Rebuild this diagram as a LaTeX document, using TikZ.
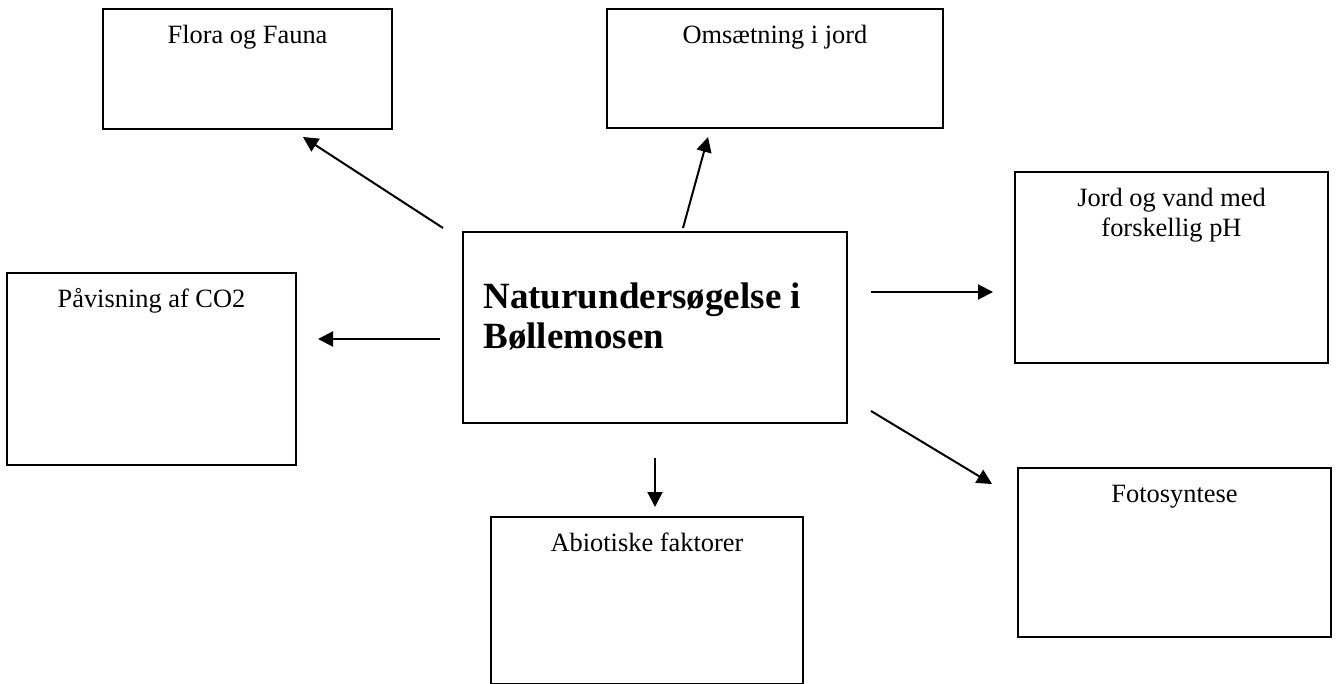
\documentclass[tikz,border=0pt]{standalone}
\usepackage{fontspec}
\setmainfont{Liberation Serif}
\usetikzlibrary{arrows.meta, positioning}

\begin{document}
\begin{tikzpicture}[x=0.5pt, y=-0.5pt, >={Triangle[length=7.5pt, width=7.5pt]},
                       boks/.style = {draw, line width=1pt, inner sep=0pt, fill=white},
                       tekst/.style = {anchor=base, font=\fontsize{13.2}{15}\selectfont, align=center},
                       pil/.style = {->, line width=1pt}
                      ]

    \useasboundingbox (0,0) rectangle (1337,684);

    % boksene
    \node[boks, minimum width=144.5pt, minimum height=60pt] (flora) at (247.5,69) {};
    \node[boks, minimum width=168pt, minimum height=59.5pt] (omsaet) at (775,68.5) {};
    \node[boks, minimum width=192pt, minimum height=95.5pt] (midt) at (655,327.5) {};
    \node[boks, minimum width=156.5pt, minimum height=95.5pt] (jord) at (1171.5,267.5) {};
    \node[boks, minimum width=144.5pt, minimum height=96pt] (co2) at (151.5,369) {};
    \node[boks, minimum width=156pt, minimum height=83.5pt] (abio) at (647,600.5) {};
    \node[boks, minimum width=156.5pt, minimum height=84.5pt] (foto) at (1174.5,552.5) {};

    \node[tekst] (flora-t) at ([yshift=-18pt]flora.north) {Flora og Fauna};
    \node[tekst] (omsaet-t) at ([yshift=-18pt]omsaet.north) {Omsætning i jord};
    \node[tekst] (jord-t) at ([yshift=-32.5pt]jord.north) {Jord og vand med\\forskellig pH};
    \node[tekst] (co2-t) at ([yshift=-17.5pt]co2.north) {Påvisning af CO2};
    \node[tekst] (abio-t) at ([yshift=-17.5pt]abio.north) {Abiotiske faktorer};
    \node[tekst] (foto-t) at ([yshift=-17.5pt]foto.north) {Fotosyntese};
    \node[anchor=base west, align=left, inner sep=0pt, font=\fontsize{18.5}{20}\selectfont\bfseries]
        (midt-t) at (483,348) {Naturundersøgelse i\\Bøllemosen};

    % pilene
    \coordinate (a1) at (443,228);  \coordinate (b1) at (303,137);
    \coordinate (a2) at (683,228);  \coordinate (b2) at (708,137);
    \coordinate (a3) at (871,292);  \coordinate (b3) at (993,292);
    \coordinate (a4) at (440,339);  \coordinate (b4) at (318,339);
    \coordinate (a5) at (655,458);  \coordinate (b5) at (655,507);
    \coordinate (a6) at (871,411);  \coordinate (b6) at (992,484);

    \foreach \i in {1,...,6}
        \draw[pil] (a\i) -- (b\i);

\end{tikzpicture}
\end{document}
